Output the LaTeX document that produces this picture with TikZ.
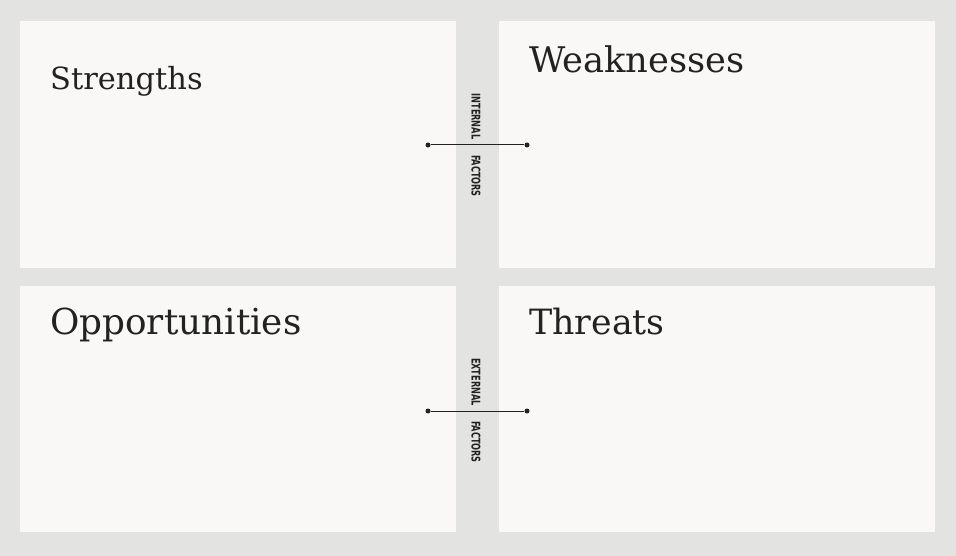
\documentclass[tikz,border=0pt]{standalone}
\usepackage{fontspec}
\setmainfont{DejaVu Serif}
\newfontfamily\labelfont{DejaVu Sans Condensed Bold}
\begin{document}
\begin{tikzpicture}[x=1pt,y=-1pt,
  panel/.style={fill=panelc,draw=none},
  title/.style={anchor=base west,inner sep=0pt,text=textc},
  factor/.style={inner sep=0pt,text=textc,rotate=-90,font=\labelfont\fontsize{12}{12}\selectfont},
  dotend/.style={circle,fill=textc,inner sep=0pt,minimum size=5pt},
  link/.style={draw=textc,line width=1pt}]
\definecolor{bgc}{HTML}{E3E3E2}
\definecolor{panelc}{HTML}{F9F8F7}
\definecolor{textc}{HTML}{222222}
\fill[bgc] (0,0) rectangle (956,556);
\useasboundingbox (0,0) rectangle (956,556);
\fill[panel] (20,21) rectangle (456,268);
\fill[panel] (499,21) rectangle (935,268);
\fill[panel] (20,286) rectangle (456,532);
\fill[panel] (499,286) rectangle (935,532);
\node[title,font=\fontsize{30.5}{30.5}\selectfont] (s) at (50,90) {Strengths};
\node[title,font=\fontsize{35.3}{35.3}\selectfont] (w) at (529,72.5) {Weaknesses};
\node[title,font=\fontsize{35.8}{35.8}\selectfont] (o) at (50,334.5) {Opportunities};
\node[title,font=\fontsize{34.8}{34.8}\selectfont] (t) at (529,334.5) {Threats};
\node[factor] (int) at (476,116.5) {\scalebox{0.76}[1]{INTERNAL}};
\node[factor] (fac1) at (476,176) {\scalebox{0.76}[1]{FACTORS}};
\node[factor] (ext) at (476,382) {\scalebox{0.76}[1]{EXTERNAL}};
\node[factor] (fac2) at (476,442) {\scalebox{0.76}[1]{FACTORS}};
\node[dotend] (a1) at (428,145) {};
\node[dotend] (b1) at (527,145) {};
\node[dotend] (a2) at (428,411) {};
\node[dotend] (b2) at (527,411) {};
\draw[link] (a1) -- (b1);
\draw[link] (a2) -- (b2);
\end{tikzpicture}
\end{document}
